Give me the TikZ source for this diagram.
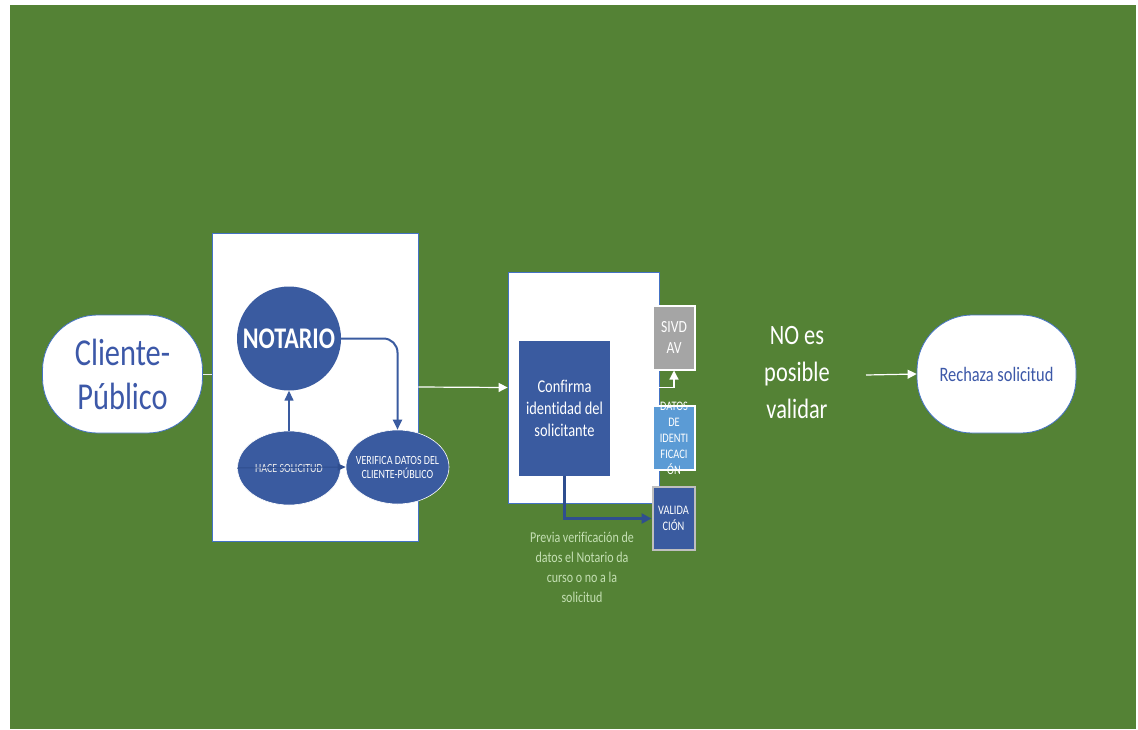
\documentclass[tikz,border=0pt]{standalone}
\usepackage{fontspec}
\setmainfont[FakeStretch=0.8, Ligatures={NoCommon}]{Carlito}
\usetikzlibrary{shapes.geometric,arrows.meta}
\definecolor{fondo}{HTML}{548235}
\definecolor{azul}{HTML}{3A5BA0}
\definecolor{azulosc}{HTML}{2F4E8F}
\definecolor{azultexto}{HTML}{3C58A8}
\definecolor{borde}{HTML}{4472C4}
\definecolor{celeste}{HTML}{5B9BD5}
\definecolor{gris}{HTML}{A5A5A5}
\definecolor{grisclaro}{HTML}{BFBFBF}
\definecolor{verdeclaro}{HTML}{C5E0B4}
\tikzstyle{terminal} = [rectangle, rounded corners=55pt, minimum width=160pt, minimum height=118pt, draw=borde, line width=0.8pt, fill=white, text=azultexto, align=center]
\tikzstyle{panel} = [rectangle, draw=borde, line width=0.8pt, fill=white, inner sep=0pt]
\tikzstyle{circulo} = [circle, fill=azul, text=white, minimum size=104pt, inner sep=0pt, font=\fontsize{30}{36}\selectfont\bfseries]
\tikzstyle{elipse} = [ellipse, fill=azul, draw=white, line width=0.6pt, text=white, minimum width=103pt, minimum height=74pt, inner xsep=-6pt, inner ysep=0pt, align=center, font=\fontsize{12.5}{14}\selectfont]
\tikzstyle{lateral} = [rectangle, minimum width=42pt, minimum height=64pt, inner sep=0pt, line width=2pt, text=white]
\tikzstyle{textolat} = [text=white, align=center, inner sep=0pt, font=\fontsize{13}{16}\selectfont]
\tikzstyle{flecha} = [white, line width=1.2pt, -{Triangle[length=9pt,width=9pt]}]
\tikzstyle{flechaazul} = [azul, line width=2pt, -{Triangle[length=10pt,width=9pt]}]

\begin{document}
\begin{tikzpicture}[x=1pt, y=-1pt]
\useasboundingbox (0,0) rectangle (1138,729);
\fill[fondo] (10,5) rectangle (1136,729);

\node (cliente) [terminal, font=\fontsize{38}{44}\selectfont] at (122.5,374) {Cliente-\\Público};
\node (box1) [panel, minimum width=206pt, minimum height=308pt] at (315,387) {};
\node (notario) [circulo] at (289,338.5) {NOTARIO};
\node (hace) [elipse, text=white!85!gray] at (289,468) {HACE SOLICITUD};
\node (verifica) [elipse] at (397.5,467) {VERIFICA DATOS DEL\\CLIENTE-PÚBLICO};
\node (box2) [panel, minimum width=151pt, minimum height=231pt] at (583.5,387.5) {};
\node (confirma) [rectangle, fill=azul, text=white, minimum width=91pt, minimum height=135pt, inner sep=0pt, align=center, font=\fontsize{18}{22}\selectfont] at (564.5,408.5) {Confirma\\identidad del\\solicitante};
\node (sivdav) [lateral, fill=gris, draw=white, align=center, font=\fontsize{17}{21}\selectfont] at (674,337.5) {SIVD\\AV};
\node (datos) [lateral, fill=celeste, draw=white] at (674,438) {};
\node [textolat] at (datos) {DATOS\\DE\\IDENTI\\FICACI\\ÓN};
\node (validacion) [lateral, fill=azul, draw=grisclaro, minimum height=63pt, align=center, font=\fontsize{13}{16}\selectfont] at (673.5,518.5) {VALIDA\\CIÓN};
\node (previa) [text=verdeclaro, align=center, font=\fontsize{15}{20}\selectfont] at (582,567) {Previa verificación de\\datos el Notario da\\curso o no a la\\solicitud};
\node (noposible) [text=white, align=center, font=\fontsize{28}{37}\selectfont] at (797,373) {NO es\\posible\\validar};
\node (rechaza) [terminal, minimum width=159pt, font=\fontsize{20.5}{24}\selectfont] at (996.5,374) {Rechaza solicitud};
\coordinate (inicio) at (866,375);

% Flechas
\draw [white!85!gray, line width=1pt] (cliente.east) -- (cliente.east -| box1.west);
\draw [azulosc, line width=1pt, -{Triangle[length=8pt,width=7pt]}] (hace.west) -- (verifica.west);
\draw [azul, line width=1.5pt, -{Triangle[length=10pt,width=9pt]}] (hace.north) -- (notario.south);
\draw [flechaazul, rounded corners=14pt] (notario.east) -| (verifica.north);
\draw [flecha] (box1.east) -- (box2.west);
\draw [flecha] (box2.east) -| (sivdav.south);
\draw [azulosc, line width=3pt, -{Triangle[length=10pt,width=10pt]}] (confirma.south) |- (validacion.west);
\draw [flecha] (inicio) -- (rechaza.west);

\end{tikzpicture}
\end{document}
